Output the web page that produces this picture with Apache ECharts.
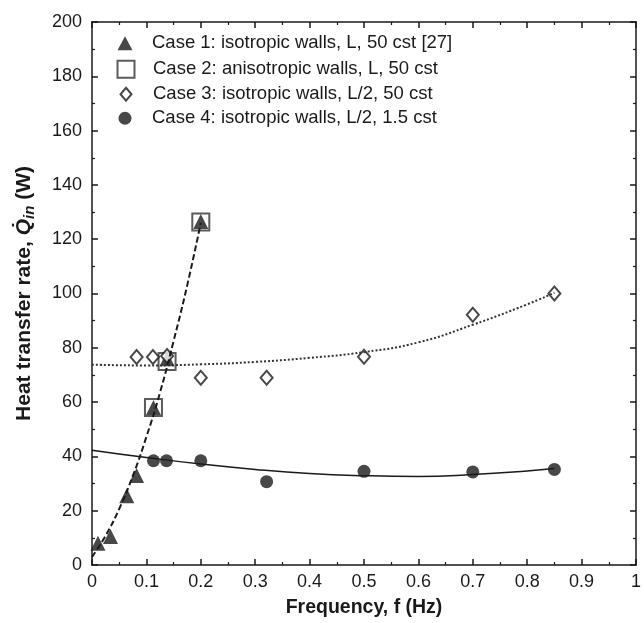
<!DOCTYPE html>
<html>
<head>
<meta charset="utf-8">
<script src="https://cdn.jsdelivr.net/npm/echarts@6/dist/echarts.min.js"></script>
<style>
  html, body { margin: 0; padding: 0; background: #fff; }
</style>
</head>
<body>
<div id="chart" style="width: 644px; height: 623px;"></div>
<script>
// measured points [f (Hz), Q (W)]
var case1 = [[0.011, 8], [0.034, 10.5], [0.064, 25.5], [0.082, 33], [0.113, 58], [0.138, 76], [0.2, 126.5]];
var case2 = [[0.113, 58], [0.138, 75], [0.2, 126.3]];
var case3 = [[0.082, 76.6], [0.112, 76.6], [0.138, 77], [0.2, 69], [0.321, 69], [0.5, 76.7], [0.7, 92.2], [0.85, 100]];
var case4 = [[0.113, 38.4], [0.137, 38.4], [0.2, 38.4], [0.321, 30.7], [0.5, 34.5], [0.7, 34.3], [0.85, 35.2]];

// fitted curves
var fit1 = [[0, 3], [0.025, 10.8], [0.05, 20.7], [0.075, 32.8], [0.1, 47.2], [0.125, 63.5], [0.15, 82.5], [0.175, 103], [0.2, 126]];
var fit3 = [[0, 73.8], [0.1, 73.5], [0.2, 73.9], [0.3, 74.8], [0.4, 76.3], [0.5, 78.4], [0.6, 82], [0.7, 88.5], [0.8, 96], [0.85, 100.3]];
var fit4 = [[0, 42.3], [0.1, 39.6], [0.2, 37.2], [0.3, 35.2], [0.4, 33.7], [0.5, 32.9], [0.6, 32.6], [0.7, 33.3], [0.8, 34.6], [0.85, 35.5]];

var names = [
  "Case 1: isotropic walls, L, 50 cst [27]",
  "Case 2: anisotropic walls, L, 50 cst",
  "Case 3: isotropic walls, L/2, 50 cst",
  "Case 4: isotropic walls, L/2, 1.5 cst"
];

var ink = "#1a1a1a";
var font = "Liberation Sans, Arial, sans-serif";
var legendFont = 18.5;

var myChart = echarts.init(document.getElementById("chart"));

function axisLine() {
  return { show: true, onZero: false, lineStyle: { color: ink, width: 1.5 } };
}

// one legend per entry so each icon keeps its own size
function legendItem(i, w, h, centerY) {
  var rowH = Math.max(h, legendFont);
  return {
    data: [names[i]],
    orient: "vertical",
    padding: 0,
    left: 125 - w / 2,
    top: centerY - rowH / 2,
    itemWidth: w,
    itemHeight: h,
    textStyle: {
      color: ink,
      fontFamily: font,
      fontSize: legendFont,
      padding: [0, 0, 0, 22 - w / 2]
    }
  };
}

var option = {
  animation: false,
  backgroundColor: "#fff",
  grid: { left: 92, right: 2, top: 22, bottom: 56, containLabel: false },
  legend: [
    legendItem(0, 15, 14, 43),
    legendItem(1, 17, 17, 69),
    legendItem(2, 11, 13, 94),
    legendItem(3, 13, 13, 118)
  ],
  xAxis: [
    {
      type: "value", min: 0, max: 1, interval: 0.1,
      name: "Frequency, f (Hz)",
      nameLocation: "middle", nameGap: 33,
      nameTextStyle: { color: ink, fontFamily: font, fontSize: 19.5, fontWeight: "bold" },
      axisLine: axisLine(),
      axisTick: { inside: true, length: 6, lineStyle: { color: ink, width: 1.5 } },
      minorTick: { show: true, splitNumber: 2, length: 3, lineStyle: { color: ink, width: 1.2 } },
      axisLabel: { color: ink, fontFamily: font, fontSize: 18, margin: 8 },
      splitLine: { show: false }
    },
    {
      type: "value", min: 0, max: 1, interval: 0.1, position: "top",
      axisLine: axisLine(),
      axisTick: { inside: true, length: 6, lineStyle: { color: ink, width: 1.5 } },
      minorTick: { show: true, splitNumber: 2, length: 3, lineStyle: { color: ink, width: 1.2 } },
      axisLabel: { show: false },
      splitLine: { show: false }
    }
  ],
  yAxis: [
    {
      type: "value", min: 0, max: 200, interval: 20,
      name: "Heat transfer rate, {q|Q̇}{sub|in} (W)",
      nameLocation: "middle", nameGap: 55,
      nameTextStyle: {
        color: ink, fontFamily: font, fontSize: 21, fontWeight: "bold",
        rich: {
          q: { color: ink, fontFamily: font, fontSize: 21, fontWeight: "bold", fontStyle: "italic" },
          sub: { color: ink, fontFamily: font, fontSize: 15, fontWeight: "bold", fontStyle: "italic", padding: [10, 0, 0, 0] }
        }
      },
      axisLine: axisLine(),
      axisTick: { inside: true, length: 6, lineStyle: { color: ink, width: 1.5 } },
      minorTick: { show: true, splitNumber: 2, length: 3, lineStyle: { color: ink, width: 1.2 } },
      axisLabel: { color: ink, fontFamily: font, fontSize: 18, margin: 10 },
      splitLine: { show: false }
    },
    {
      type: "value", min: 0, max: 200, interval: 20, position: "right",
      axisLine: axisLine(),
      axisTick: { inside: true, length: 6, lineStyle: { color: ink, width: 1.5 } },
      minorTick: { show: true, splitNumber: 2, length: 3, lineStyle: { color: ink, width: 1.2 } },
      axisLabel: { show: false },
      splitLine: { show: false }
    }
  ],
  series: [
    {
      name: "fit1", type: "line", data: fit1, smooth: true, showSymbol: false, silent: true,
      lineStyle: { color: ink, width: 2, type: [6, 3] }
    },
    {
      name: "fit3", type: "line", data: fit3, smooth: true, showSymbol: false, silent: true,
      lineStyle: { color: "#333", width: 2, type: [2, 2] }
    },
    {
      name: "fit4", type: "line", data: fit4, smooth: true, showSymbol: false, silent: true,
      lineStyle: { color: ink, width: 1.5 }
    },
    {
      name: names[1], type: "scatter", data: case2, symbol: "rect", symbolSize: 17,
      itemStyle: { color: "rgba(0,0,0,0)", borderColor: "#333", borderWidth: 2 }
    },
    {
      name: names[0], type: "scatter", data: case1, symbol: "triangle", symbolSize: 15,
      itemStyle: { color: ink }
    },
    {
      name: names[2], type: "scatter", data: case3, symbol: "diamond", symbolSize: [12, 14],
      itemStyle: { color: "#fff", borderColor: ink, borderWidth: 2 }
    },
    {
      name: names[3], type: "scatter", data: case4, symbol: "circle", symbolSize: 13,
      itemStyle: { color: ink }
    }
  ]
};

myChart.setOption(option);
</script>
</body>
</html>
